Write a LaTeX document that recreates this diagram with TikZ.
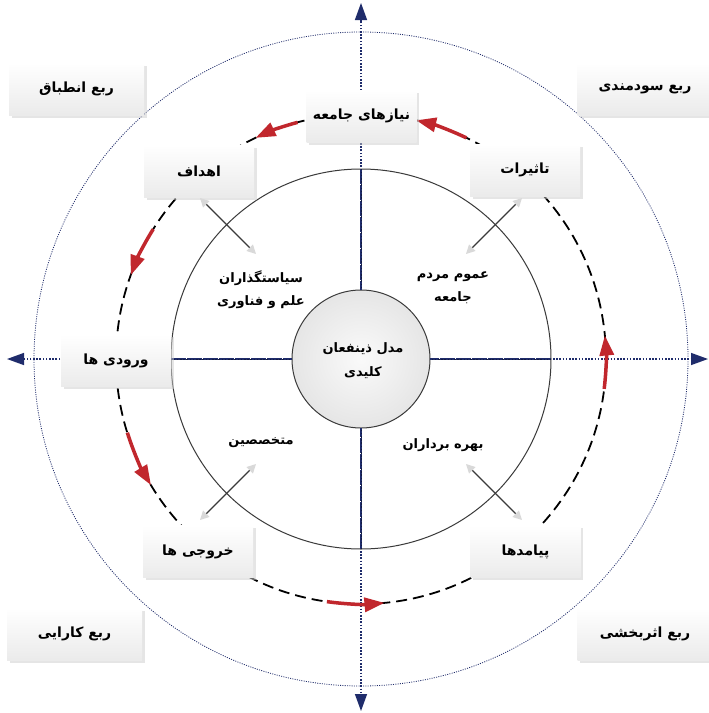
\documentclass[tikz,border=0pt]{standalone}
\usepackage{fontspec}
\newfontfamily\fa[Script=Arabic]{DejaVu Sans}
\TeXXeTstate=1
\usetikzlibrary{arrows.meta,shadows}
\definecolor{navy}{HTML}{1F2C6B}
\definecolor{redarr}{HTML}{C1272D}
\definecolor{ringgray}{HTML}{3A3A3A}
\newcommand{\fat}[1]{\beginR #1\endR}
\begin{document}
\begin{tikzpicture}[x=1pt,y=-1pt,
  box/.style={shading=axis, top color=white, bottom color=gray!16, minimum width=110pt,
    minimum height=52pt, inner sep=0pt,
    drop shadow={shadow xshift=2.5pt, shadow yshift=-2.5pt, fill=gray!40},
    font=\fa\bfseries\fontsize{14}{16}\selectfont},
  quad/.style={box, minimum width=135pt},
  inlbl/.style={font=\fa\bfseries\fontsize{13}{23}\selectfont, align=center, inner sep=0pt},
  axis/.style={navy, line width=1.4pt, dash pattern=on 1.6pt off 1.6pt,
    -{Triangle[length=17pt,width=12pt]}},
  redarrow/.style={redarr, line width=3.5pt, -{Triangle[length=20pt,width=14pt]}},
  diag/.style={ringgray, line width=1.2pt,
    {Triangle[length=9pt,width=9pt,color=gray!30]}-{Triangle[length=9pt,width=9pt,color=gray!30]}},
  bigcircle/.style={circle, inner sep=0pt, outer sep=0pt}
]
\useasboundingbox (0,0) rectangle (709,713);
\fill[white] (0,0) rectangle (709,713);
\coordinate (C) at (361,359);
% outer dotted circle
\node[bigcircle, draw=navy, line width=0.8pt, dash pattern=on 1pt off 1.3pt, minimum size=654pt] (outer) at (C) {};
% middle ring
\node[bigcircle, draw=ringgray, line width=1pt, minimum size=380pt] (ring) at (C) {};
% axes end points
\coordinate (L) at (7,359);
\coordinate (R) at (708,359);
\coordinate (T) at (361,3);
\coordinate (B) at (361,711);
\draw[axis] (C) -- (L);
\draw[axis] (C) -- (R);
\draw[axis] (C) -- (T);
\draw[axis] (C) -- (B);
% core
\node[bigcircle, draw=ringgray, line width=1pt, minimum size=138pt, shading=radial,
  inner color=gray!4, outer color=gray!20] (core) at (C) {};
% spokes
\draw[navy!60!black, line width=1pt] (core.north) -- (ring.north);
\draw[navy!60!black, line width=1pt] (core.south) -- (ring.south);
\draw[navy!60!black, line width=1pt] (core.west) -- (ring.west);
\draw[navy!60!black, line width=1pt] (core.east) -- (ring.east);
\draw[navy, line width=1.4pt, dash pattern=on 1.6pt off 1.6pt] (core.north) -- (ring.north);
\draw[navy, line width=1.4pt, dash pattern=on 1.6pt off 1.6pt] (core.south) -- (ring.south);
\draw[navy, line width=1.4pt, dash pattern=on 1.6pt off 1.6pt] (core.west) -- (ring.west);
\draw[navy, line width=1.4pt, dash pattern=on 1.6pt off 1.6pt] (core.east) -- (ring.east);
\node[inlbl, font=\fa\bfseries\fontsize{13}{24}\selectfont] (coretxt) at (363,361) {\fat{مدل ذینفعان}\\\fat{کلیدی}};
% dashed cycle
\node[bigcircle, draw=black, line width=1.8pt, dash pattern=on 11pt off 6pt, minimum size=490pt] (cycle) at (C) {};
% red arrows
\draw[redarrow] (C) ++(105:245pt) arc[start angle=105, end angle=115.5, radius=245pt];
\draw[redarrow] (C) ++(64.5:245pt) arc[start angle=64.5, end angle=77, radius=245pt];
\draw[redarrow] (C) ++(148:245pt) arc[start angle=148, end angle=160, radius=245pt];
\draw[redarrow] (C) ++(197.5:245pt) arc[start angle=197.5, end angle=211, radius=245pt];
\draw[redarrow] (C) ++(262:245pt) arc[start angle=262, end angle=275.5, radius=245pt];
\draw[redarrow] (C) ++(-7:245pt) arc[start angle=-7, end angle=5.5, radius=245pt];
% quadrant boxes
\node[quad] (q1) at (76.5,89) {\fat{ربع انطباق}};
\node[quad] (q2) at (645,89) {\fat{ربع سودمندی}};
\node[quad] (q3) at (74.5,634) {\fat{ربع کارایی}};
\node[quad] (q4) at (645,634) {\fat{ربع اثربخشی}};
% cycle boxes
\node[box] (goals) at (199,171) {\fat{اهداف}};
\node[box] (needs) at (361.5,116) {\fat{نیازهای جامعه}};
\node[box] (impacts) at (525,170) {\fat{تاثیرات}};
\node[box] (inputs) at (116,360.5) {\fat{ورودی ها}};
\node[box] (outputs) at (198,551.5) {\fat{خروجی ها}};
\node[box] (outcomes) at (525.5,551.5) {\fat{پیامدها}};
% stakeholder labels
\node[inlbl] (policy) at (261,290) {\fat{سیاستگذاران}\\\fat{علم و فناوری}};
\node[inlbl] (public) at (453,288) {\fat{عموم مردم}\\\fat{جامعه}};
\node[inlbl] (experts) at (261,443) {\fat{متخصصین}};
\node[inlbl] (users) at (443,445) {\fat{بهره برداران}};
% diagonal double arrows
\coordinate (d1a) at (200,198); \coordinate (d1b) at (256,254);
\coordinate (d2a) at (522,198); \coordinate (d2b) at (466,254);
\coordinate (d3a) at (200,520); \coordinate (d3b) at (256,464);
\coordinate (d4a) at (522,520); \coordinate (d4b) at (466,464);
\draw[diag] (d1a) -- (d1b);
\draw[diag] (d2a) -- (d2b);
\draw[diag] (d3a) -- (d3b);
\draw[diag] (d4a) -- (d4b);
\end{tikzpicture}
\end{document}
